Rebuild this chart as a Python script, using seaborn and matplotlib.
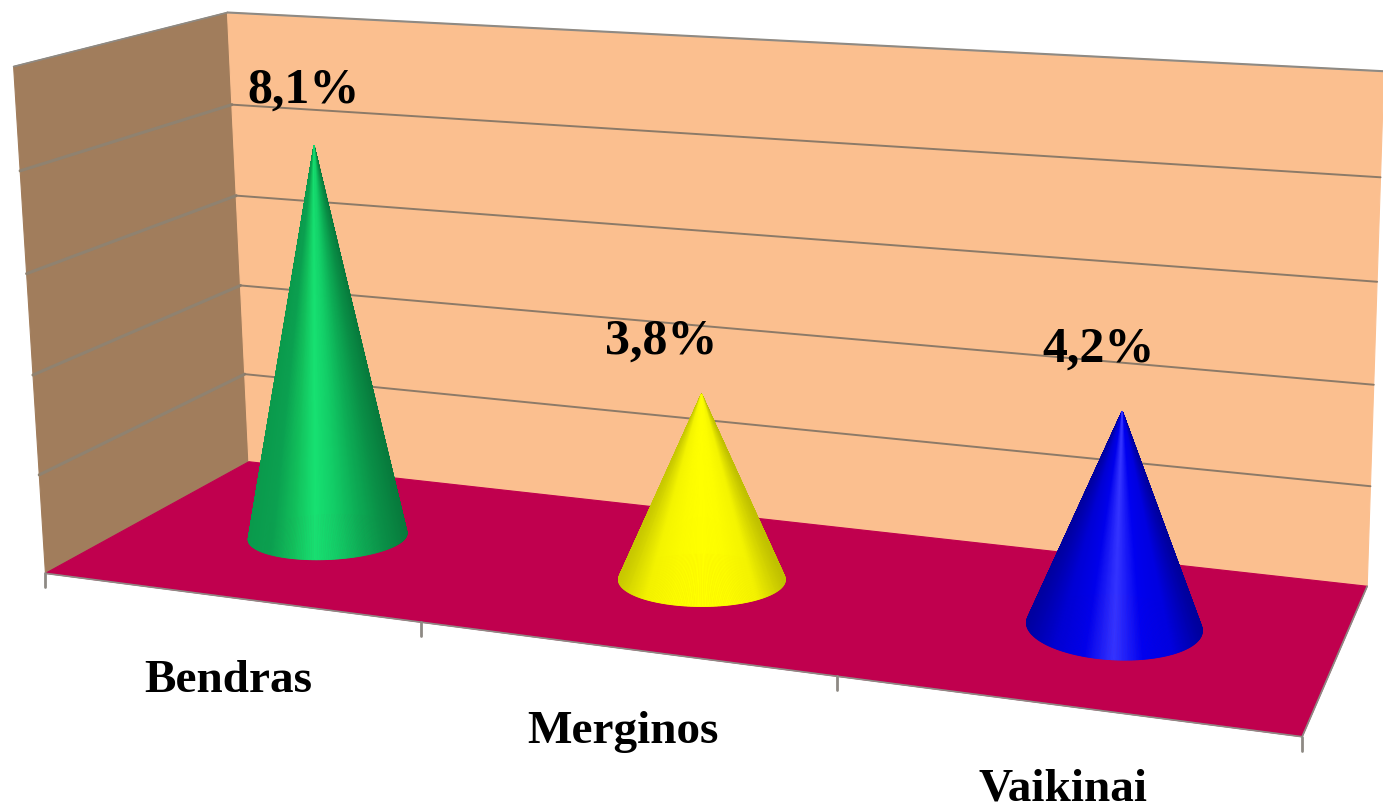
import numpy as np
import pandas as pd
import seaborn as sns
import matplotlib.pyplot as plt

categories = ["Bendras", "Merginos", "Vaikinai"]
values = [8.1, 3.8, 4.2]
value_labels = ["8,1%", "3,8%", "4,2%"]
grid_values = [2, 4, 6, 8]

shades = [
    ["#0a9a4c", "#0ba050", "#12c05c", "#17e272", "#12cc66", "#0dae56", "#0a9248", "#077a3c"],
    ["#c8c800", "#f4f400", "#fcfc00", "#ffff00", "#fdfd00", "#f4f400", "#c0c000"],
    ["#0000a0", "#0000d4", "#0000ec", "#3434ff", "#0000f0", "#0000e0", "#00009c"],
]

VMAX = 10
wall_col = "#fbbf8f"
side_col = "#a17d5c"
floor_col = "#c0004e"
line_col = "#8e8a84"

# look of the cone feet: half width in px, squash of the ellipse, tilt of the ellipse
base_half = [79.5, 83.5, 88]
base_squash = [0.29, 0.32, 0.375]
base_tilt = [-0.04, 0, 0.045]
# small px nudges, the original 3d camera is not quite a plain perspective
foot_shift = [(-3, -3), (-4.5, -5), (-7.5, -8)]
tip_shift = [(0, 0), (-2, 0), (-3, -2)]

# reference points of the 3d box: (category pos, depth, value) -> picture pixel
box = [(0, 0, 0), (1, 0, 0), (2, 0, 0), (3, 0, 0), (0, 1, 0), (3, 1, 0),
       (0, 1, VMAX), (3, 1, VMAX), (0, 0, VMAX), (0, 1, 8), (0, 1, 2), (3, 1, 8), (3, 1, 2)]
pix = [(46, 573), (421, 622), (836, 676), (1303, 737), (248, 462), (1366, 585),
       (228, 12), (1383, 71), (13, 67), (232, 104), (245, 375), (1381, 178), (1372, 487)]

rows = []
for (a, b, c), (px, py) in zip(box, pix):
    rows.append([a, b, c, 1, 0, 0, 0, 0, -px * a, -px * b, -px * c, -px])
    rows.append([0, 0, 0, 0, a, b, c, 1, -py * a, -py * b, -py * c, -py])
cam = np.linalg.svd(np.array(rows, dtype=float))[2][-1].reshape(3, 4)


def project(u, w, v):
    u, w, v = np.broadcast_arrays(np.asarray(u, float), np.asarray(w, float), np.asarray(v, float))
    p = cam @ np.stack([u, w, v, np.ones_like(u)])
    return p[0] / p[2], p[1] / p[2]


def face(ax, corners, color):
    xs, ys = project(*np.array(corners).T)
    ax.fill(xs, ys, color=color, lw=0.8, zorder=1)


def line3d(ax, a, b, color=line_col, lw=1.5):
    xs, ys = project(*np.array([a, b]).T)
    sns.lineplot(x=xs, y=ys, color=color, lw=lw, sort=False, estimator=None, ax=ax, zorder=2)


def cone(ax, i, pos, value, cmap):
    th = np.linspace(0, 2 * np.pi, 361)
    cx, cy = project(pos + 0.025, 0.47, 0)
    tx, ty = project(pos + 0.025, 0.47, value)
    tx, ty = tx + tip_shift[i][0], ty + tip_shift[i][1]
    half = base_half[i]
    bx = cx + foot_shift[i][0] + half * np.cos(th)
    by = cy + foot_shift[i][1] + base_tilt[i] * half * np.cos(th) + base_squash[i] * half * np.sin(th)
    # far side first so the near side ends up on top
    for k in np.argsort(np.sin(th[:-1])):
        col = cmap((np.cos(th[k]) + 1) / 2)
        ax.fill([tx, bx[k], bx[k + 1]], [ty, by[k], by[k + 1]], color=col, lw=0.6, zorder=3)
    return tx, ty


sns.set_theme(style="white")
plt.rcParams['font.family'] = ['Liberation Serif', 'DejaVu Serif']

fig = plt.figure(figsize=(13.83, 8.07), dpi=100)
ax = fig.add_axes([0, 0, 1, 1])

# walls and floor
face(ax, [(0, 0, 0), (0, 1, 0), (0, 1, VMAX), (0, 0, VMAX)], side_col)
face(ax, [(0, 1, 0), (3, 1, 0), (3, 1, VMAX), (0, 1, VMAX)], wall_col)
face(ax, [(0, 0, 0), (3, 0, 0), (3, 1, 0), (0, 1, 0)], floor_col)

for g in grid_values:
    line3d(ax, (0, 0, g), (0, 1, g), color="#8f8270", lw=2.2)
    line3d(ax, (0, 1, g), (3, 1, g), color="#8c7a68", lw=1.4)
line3d(ax, (0, 0, VMAX), (0, 1, VMAX), lw=1.2)
line3d(ax, (0, 1, VMAX), (3, 1, VMAX), lw=1.5)
line3d(ax, (0, 0, 0), (3, 0, 0), lw=1.2)
line3d(ax, (3, 0, 0), (3, 1, 0), lw=1.2)

# category ticks hang below the front floor edge
for u in range(len(categories) + 1):
    tx, ty = project(u, 0, 0)
    sns.lineplot(x=[float(tx), float(tx)], y=[float(ty), float(ty) + 14], color=line_col, lw=2,
                 sort=False, estimator=None, ax=ax, zorder=2)

label_shift = [(-10, -55), (-40, -52), (-24, -62)]
for i, (name, val, txt) in enumerate(zip(categories, values, value_labels)):
    cmap = sns.blend_palette(shades[i], as_cmap=True)
    tx, ty = cone(ax, i, i + 0.5, val, cmap)
    ax.text(tx + label_shift[i][0], ty + label_shift[i][1], txt, ha="center", va="center",
            fontsize=36, fontweight="bold", color="black", zorder=5)
    lx, ly = project(i + 0.5, 0, 0)
    ax.text(lx, ly + 84, name, ha="center", va="center",
            fontsize=34, fontweight="bold", color="black", zorder=5)

ax.set_xlim(0, 1383)
ax.set_ylim(807, 0)
ax.axis("off")

fig.savefig("out.png", dpi=100, facecolor="white")
